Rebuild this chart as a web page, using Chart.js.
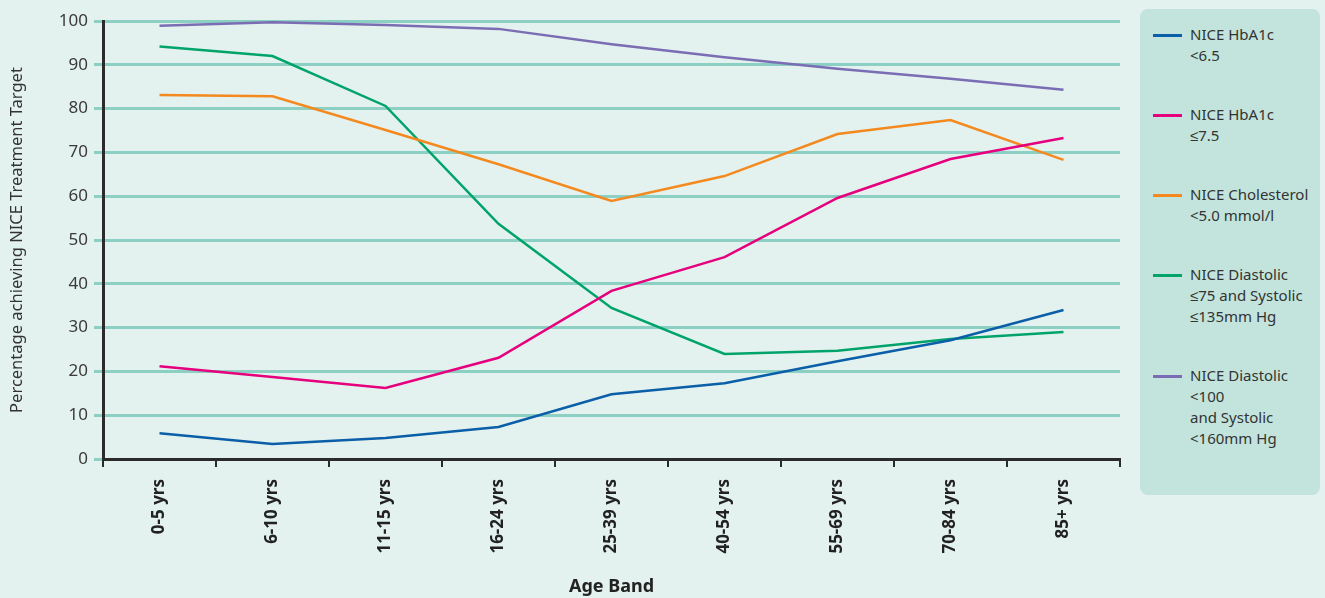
<!DOCTYPE html>
<html>
<head>
<meta charset="utf-8">
<script src="https://cdn.jsdelivr.net/npm/chart.js@4"></script>
<style>
  html, body { margin: 0; padding: 0; background: #e3f2ee; }
  body { width: 1325px; height: 598px; position: relative; overflow: hidden; font-family: "Noto Sans", sans-serif; }
  #wrap { position: absolute; left: 0; top: 0; width: 1130px; height: 598px; }
  #legend {
    position: absolute; left: 1140px; top: 9px; width: 180px; height: 486px;
    background: #c2e4dc; border-radius: 8px; box-sizing: border-box; padding-top: 15px;
  }
  .item { position: relative; padding-left: 50px; margin-bottom: 38px; color: #333; font-size: 15px; line-height: 21px; }
  .item .swatch { position: absolute; left: 13px; top: 10px; width: 29px; height: 2.5px; }
</style>
</head>
<body>
<div id="wrap"><canvas id="chart"></canvas></div>
<div id="legend"></div>
<script>
const ageBands = ['0-5 yrs', '6-10 yrs', '11-15 yrs', '16-24 yrs', '25-39 yrs', '40-54 yrs', '55-69 yrs', '70-84 yrs', '85+ yrs'];
const yTicks = [0, 10, 20, 30, 40, 50, 60, 70, 80, 90, 100];

const hba1c65 = [5.9, 3.4, 4.8, 7.3, 14.8, 17.3, 22.3, 27.1, 34.0];
const hba1c75 = [21.2, 18.7, 16.2, 23.1, 38.4, 46.1, 59.6, 68.5, 73.3];
const cholesterol = [83.1, 82.8, 75.1, 67.3, 58.9, 64.6, 74.2, 77.4, 68.3];
const bp75 = [94.2, 92.0, 80.6, 53.7, 34.5, 24.0, 24.7, 27.4, 29.0];
const bp100 = [98.9, 99.7, 99.1, 98.2, 94.7, 91.7, 89.1, 86.8, 84.3];

const seriesNames = [
  ['NICE HbA1c', '<6.5'],
  ['NICE HbA1c', '≤7.5'],
  ['NICE Cholesterol', '<5.0 mmol/l'],
  ['NICE Diastolic', '≤75 and Systolic', '≤135mm Hg'],
  ['NICE Diastolic', '<100', 'and Systolic', '<160mm Hg']
];
const seriesColors = ['#0b5ea8', '#e6007e', '#f3891f', '#00a46a', '#7b6db3'];
const seriesData = [hba1c65, hba1c75, cholesterol, bp75, bp100];

const datasets = seriesData.map((d, i) => ({
  label: seriesNames[i].join(' '),
  data: d,
  borderColor: seriesColors[i],
  borderWidth: 2.5,
  pointRadius: 0,
  tension: 0,
  fill: false
}));

// legend box on the right, built from the series names
const legendEl = document.getElementById('legend');
seriesNames.forEach((lines, i) => {
  const item = document.createElement('div');
  item.className = 'item';
  const sw = document.createElement('span');
  sw.className = 'swatch';
  sw.style.background = seriesColors[i];
  item.appendChild(sw);
  lines.forEach(t => {
    const ln = document.createElement('div');
    ln.textContent = t;
    item.appendChild(ln);
  });
  legendEl.appendChild(item);
});

const ctx = document.getElementById('chart').getContext('2d');
new Chart(ctx, {
  type: 'line',
  data: { labels: ageBands, datasets: datasets },
  options: {
    responsive: true,
    maintainAspectRatio: false,
    animation: false,
    layout: { padding: { top: 21, right: 10, left: 0, bottom: 0 } },
    plugins: { legend: { display: false }, tooltip: { enabled: false } },
    scales: {
      x: {
        offset: true,
        afterFit: s => { s.height = 139; },
        grid: { offset: true, drawOnChartArea: false, drawTicks: true, tickLength: 8, color: '#2b2b2b', lineWidth: 2 },
        border: { color: '#2b2b2b', width: 3 },
        ticks: {
          maxRotation: 90, minRotation: 90, padding: 12,
          color: '#222', font: { family: 'Noto Sans', size: 17, weight: 'bold' }
        },
        title: {
          display: true, text: 'Age Band', color: '#222',
          font: { family: 'Noto Sans', size: 18, weight: 'bold' }, padding: { top: 0, bottom: 0 }
        }
      },
      y: {
        min: 0, max: 100,
        afterFit: s => { s.width = 103; },
        afterBuildTicks: s => { s.ticks = yTicks.map(v => ({ value: v })); },
        grid: { color: '#8ccfc3', lineWidth: 3, drawTicks: true, tickLength: 9 },
        border: { color: '#2b2b2b', width: 3 },
        ticks: { padding: 6, color: '#3a3a3a', font: { family: 'Noto Sans', size: 17 } },
        title: {
          display: true, text: 'Percentage achieving NICE Treatment Target', color: '#333',
          font: { family: 'Noto Sans', size: 16.5 }, padding: { top: 7, bottom: 0 }
        }
      }
    }
  }
});
</script>
</body>
</html>
